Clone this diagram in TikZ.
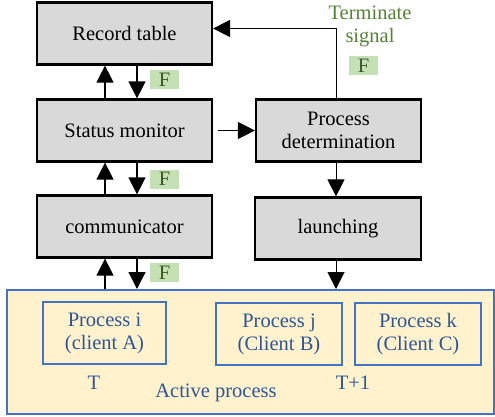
\documentclass[tikz,border=0pt]{standalone}
\usepackage{fontspec}
\setmainfont{Liberation Serif}
\newfontfamily\timesfont{Liberation Serif}
\usetikzlibrary{arrows.meta}
\definecolor{boxgray}{HTML}{D9D9D9}
\definecolor{actfill}{HTML}{FFF2CC}
\definecolor{actblue}{HTML}{4472C4}
\definecolor{txtblue}{HTML}{2F5597}
\definecolor{flagfill}{HTML}{C5E0B4}
\definecolor{flagtxt}{HTML}{385723}
\definecolor{termgreen}{HTML}{548235}
\tikzset{
  every node/.style={font=\timesfont\fontsize{20.5}{23}\selectfont, inner sep=0pt, align=center},
  graybox/.style={draw=black, line width=2.2pt, fill=boxgray, minimum height=62pt},
  procbox/.style={draw=actblue, line width=2pt, text=txtblue, minimum height=62pt},
  flag/.style={fill=flagfill, text=flagtxt, minimum width=29pt, minimum height=19pt},
  conn/.style={draw=black, line width=1.3pt, -{Triangle[width=17pt,length=17pt]}},
  thinconn/.style={draw=black, line width=1pt, -{Triangle[width=17pt,length=17pt]}},
  lbl/.style={text=txtblue}
}
\begin{document}
\begin{tikzpicture}[x=1pt,y=-1pt]
\useasboundingbox (0,0) rectangle (495,417);
% active process area
\node[draw=actblue, line width=2pt, fill=actfill, minimum width=487pt, minimum height=124pt] (act) at (250.5,352) {};
\node[procbox, minimum width=123pt] (pi) at (104.5,333) {Process i\\(client A)};
\node[procbox, minimum width=126pt] (pj) at (279,334) {Process j\\(Client B)};
\node[procbox, minimum width=126pt] (pk) at (418,334) {Process k\\(Client C)};
\node[lbl] (tT) at (94,383) {T};
\node[lbl] (tT1) at (353,383) {T+1};
\node[lbl] (actlbl) at (216,393) {Active process};
% gray boxes
\node[graybox, minimum width=175pt] (rt) at (124.5,33.5) {Record table};
\node[graybox, minimum width=175pt] (sm) at (124.5,130.5) {Status monitor};
\node[graybox, minimum width=175pt] (cm) at (124.5,226.5) {communicator};
\node[graybox, minimum width=165pt] (pd) at (338.5,130.5) {Process\\determination};
\node[graybox, minimum width=166pt] (la) at (338,228.5) {launching};
% flags
\node[flag] (f1) at (164.5,79.5) {F};
\node[flag] (f2) at (164.5,179) {F};
\node[flag] (f3) at (164.5,272.5) {F};
\node[flag] (f4) at (363.5,65.5) {F};
\node[text=termgreen] (term) at (370,26) {Terminate\\signal};
% connectors
\draw[conn] ([xshift=-19.5pt]sm.north) -- ([xshift=-19.5pt]rt.south);
\draw[conn] ([xshift=12.5pt]rt.south) -- ([xshift=12.5pt]sm.north);
\draw[conn] ([xshift=-19.5pt]cm.north) -- ([xshift=-19.5pt]sm.south);
\draw[conn] ([xshift=12.5pt]sm.south) -- ([xshift=12.5pt]cm.north);
\draw[conn] ([xshift=-19.5pt]act.north -| cm.south) -- ([xshift=-19.5pt]cm.south);
\draw[conn] ([xshift=12.5pt]cm.south) -- ([xshift=12.5pt]act.north -| cm.south);
\draw[conn, shorten <=5pt] (sm.east) -- (pd.west);
\draw[thinconn] ([xshift=-2.5pt]pd.north) |- ([yshift=5pt]rt.east);
\draw[thinconn] ([xshift=-2.5pt]pd.south) -- ([xshift=-2pt]la.north);
\draw[thinconn] ([xshift=-2pt]la.south) -- ([xshift=-2pt]la.south |- act.north);
\end{tikzpicture}
\end{document}
